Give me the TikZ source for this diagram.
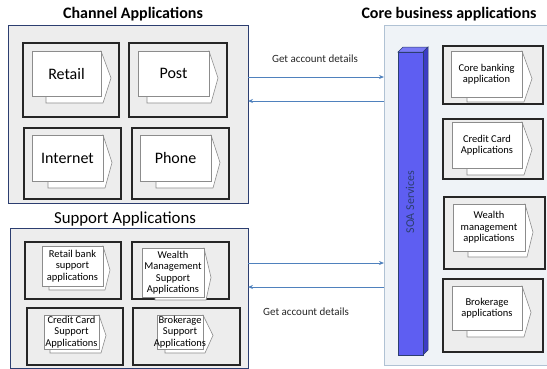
\documentclass[tikz,border=0pt]{standalone}
\usepackage{fontspec}
\setmainfont{Carlito}
\usetikzlibrary{arrows.meta}
\definecolor{navy}{HTML}{2C3E70}
\definecolor{boxgray}{HTML}{EDEDED}
\definecolor{corefill}{HTML}{EFF3F7}
\definecolor{coreline}{HTML}{B0C2D4}
\definecolor{arrowblue}{HTML}{4F81BD}
\definecolor{soafront}{HTML}{5E5EF2}
\definecolor{soaside}{HTML}{3C3CC4}
\definecolor{soatop}{HTML}{7A7AF5}
\definecolor{docgray}{HTML}{8C8C8C}
\tikzset{
  outerbox/.style={draw=navy, fill=boxgray, line width=1pt, inner sep=0pt, outer sep=0pt},
  corebox/.style={draw=coreline, fill=corefill, line width=0.8pt, inner sep=0pt, outer sep=0pt},
  innerbox/.style={draw=black!85, fill=boxgray, line width=1.5pt, inner sep=0pt, outer sep=0pt},
  docback/.style={draw=docgray, fill=white, line width=0.6pt},
  docfront/.style={draw=docgray, fill=white, line width=0.6pt, inner sep=0pt, align=center},
  bigtxt/.style={font=\fontsize{16}{19}\selectfont},
  smalltxt/.style={font=\fontsize{10.5}{11.5}\selectfont},
  titlebold/.style={font=\fontsize{16}{19}\selectfont\bfseries, inner sep=0pt},
  titlereg/.style={font=\fontsize{16.8}{20}\selectfont, inner sep=0pt},
  flow/.style={draw=arrowblue, line width=0.8pt, -{Stealth[length=5pt,width=4pt]}},
  lbl/.style={font=\fontsize{11}{13}\selectfont, inner sep=0pt, text=black!85},
}
% #1 name, #2 left, #3 top, #4 right, #5 bottom
\newcommand\ibox[5]{\node[innerbox, minimum width={(#4-#2)*1pt}, minimum height={(#5-#3)*1pt}, anchor=north west] (#1) at (#2,#3) {};}
% #1 left #2 top #3 right #4 bottom #5 tip x #6 back bottom #7 back left #8 name #9 style
\newcommand\docshp[9]{%
  \filldraw[docback] (#7,{(#2+#4)/2}) -- (#3,#2) -- (#5,{#2+0.6*(#4-#2)}) -- ({#3+2},#6) -- (#7,#6) -- cycle;
  \node[docfront, minimum width={(#3-#1)*1pt}, minimum height={(#4-#2)*1pt}, #9] (#8) at ({(#1+#3)/2},{(#2+#4)/2}) {};
}
\begin{document}
\begin{tikzpicture}[x=1pt,y=-1pt]
\useasboundingbox (0,0) rectangle (547,368);
% titles
\node[titlebold] (tchan) at (133,14) {Channel Applications};
\node[titlebold] (tcore) at (449,14) {Core business applications};
\node[titlereg] (tsup) at (125,219) {Support Applications};
% outer boxes
\node[outerbox, minimum width=240pt, minimum height=178pt, anchor=north west] (chan) at (8,25) {};
\node[outerbox, minimum width=238pt, minimum height=140pt, anchor=north west] (sup) at (10,228) {};
\node[corebox, minimum width=166pt, minimum height=340pt, anchor=north west] (core) at (384,25) {};
% channel inner boxes
\ibox{bretail}{23}{43}{119}{117}
\ibox{bpost}{129}{43}{227}{117}
\ibox{binternet}{24}{128}{121}{199}
\ibox{bphone}{132}{128}{229}{199}
\docshp{32}{51}{101}{96}{111}{103}{46}{dretail}{}
\node[bigtxt, inner sep=0pt] (tretail) at (dretail) {Retail};
\docshp{138}{51}{209}{96}{218}{103}{147}{dpost}{}
\node[bigtxt, inner sep=0pt] (tpost) at (dpost) {Post};
\docshp{32}{135}{103}{181}{112}{188}{48}{dinternet}{}
\node[bigtxt, inner sep=0pt] (tinternet) at (dinternet) {Internet};
\docshp{140}{135}{211}{181}{220}{188}{156}{dphone}{}
\node[bigtxt, inner sep=0pt] (tphone) at (dphone) {Phone};
% support inner boxes
\ibox{bsretail}{25}{242}{121}{299}
\ibox{bswealth}{132}{242}{229}{299}
\ibox{bscredit}{27}{308}{123}{365}
\ibox{bsbroker}{133}{308}{240}{365}
\docshp{42}{246}{103}{286}{110}{290}{49}{dsretail}{}
\node[smalltxt, align=center, inner sep=0pt] (tsretail) at (dsretail) {Retail bank\\support\\applications};
\docshp{142}{248}{204}{297}{211}{300}{155}{dswealth}{}
\node[smalltxt, align=center, inner sep=0pt] (tswealth) at (dswealth) {Wealth\\Management\\Support\\Applications};
\docshp{44}{315}{99}{349}{106}{353}{50}{dscredit}{}
\node[smalltxt, align=center, inner sep=0pt] (tscredit) at (dscredit) {Credit Card\\Support\\Applications};
\docshp{157}{315}{203}{349}{213}{353}{165}{dsbroker}{}
\node[smalltxt, align=center, inner sep=0pt] (tsbroker) at (dsbroker) {Brokerage\\Support\\Applications};
% core inner boxes
\ibox{bcbank}{443}{46}{543}{104}
\ibox{bccredit}{443}{119}{543}{179}
\ibox{bcwealth}{444}{197}{545}{269}
\ibox{bcbroker}{443}{279}{543}{352}
\docshp{451}{51}{522}{97}{532}{102}{467}{dcbank}{}
\node[smalltxt, align=center, inner sep=0pt] (tcbank) at (dcbank) {Core banking\\application};
\docshp{452}{122}{522}{168}{532}{175}{467}{dccredit}{}
\node[smalltxt, align=center, inner sep=0pt] (tccredit) at (dccredit) {Credit Card\\Applications};
\docshp{453}{204}{525}{251}{533}{257}{468}{dcwealth}{}
\node[smalltxt, align=center, inner sep=0pt] (tcwealth) at (dcwealth) {Wealth\\management\\applications};
\docshp{452}{286}{522}{330}{531}{337}{467}{dcbroker}{}
\node[smalltxt, align=center, inner sep=0pt] (tcbroker) at (dcbroker) {Brokerage\\applications};
% SOA bar
\fill[soatop, draw=navy, line width=0.5pt] (398,52) -- (403,47) -- (428,47) -- (423,52) -- cycle;
\fill[soaside, draw=navy, line width=0.5pt] (423,52) -- (428,47) -- (428,350) -- (423,355) -- cycle;
\node[fill=soafront, draw=navy, line width=0.5pt, minimum width=25pt, minimum height=303pt, anchor=north west, inner sep=0pt] (soa) at (398,52) {};
\node[font=\fontsize{12}{14}\selectfont, rotate=90, text=navy, inner sep=0pt] (tsoa) at (410,202) {SOA Services};
% arrows
\coordinate (y1) at (0,77);
\coordinate (y2) at (0,101);
\coordinate (y3) at (0,263);
\coordinate (y4) at (0,287);
\draw[flow] (chan.east |- y1) -- (core.west |- y1);
\draw[flow] (core.west |- y2) -- (chan.east |- y2);
\draw[flow] (sup.east |- y3) -- (core.west |- y3);
\draw[flow] (core.west |- y4) -- (sup.east |- y4);
\node[lbl] (l1) at (315,59) {Get account details};
\node[lbl, anchor=west] (l2) at (263,312) {Get account details};
\end{tikzpicture}
\end{document}
